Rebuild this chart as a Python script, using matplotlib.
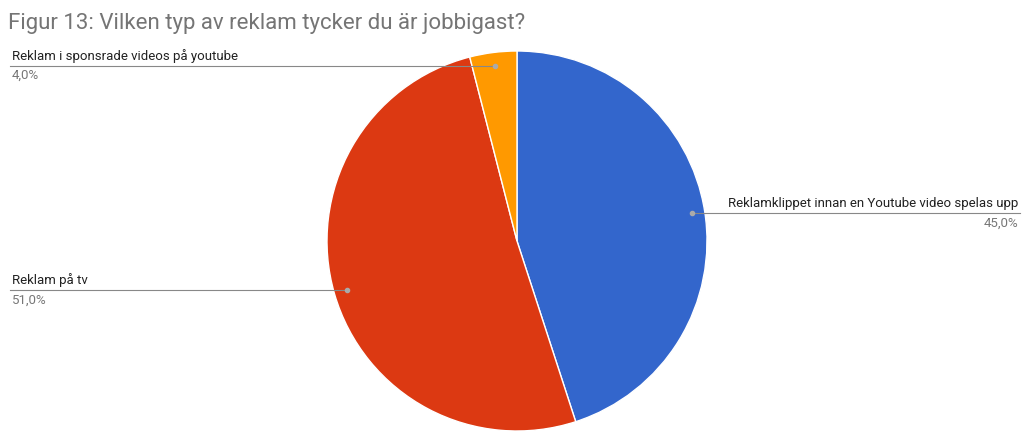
import numpy as np
import matplotlib.pyplot as plt

labels = ['Reklamklippet innan en Youtube video spelas upp', 'Reklam på tv', 'Reklam i sponsrade videos på youtube']
values = [45.0, 51.0, 4.0]
pct_text = ['45,0%', '51,0%', '4,0%']
colors = ['#3366cc', '#dc3912', '#ff9900']

plt.rcParams['font.family'] = ['Roboto', 'DejaVu Sans']
W, H = 1024, 448
fig = plt.figure(figsize=(W / 100, H / 100), dpi=100)

cx, cy, r = 517, 241, 190
ax = fig.add_axes([(cx - r) / W, (H - cy - r) / H, 2 * r / W, 2 * r / H])
wedges, _ = ax.pie(values, colors=colors, startangle=90, counterclock=False,
                   wedgeprops=dict(linewidth=1, edgecolor='white'))
ax.set_xlim(-1, 1)
ax.set_ylim(-1, 1)
ax.set_aspect('equal')

ov = fig.add_axes([0, 0, 1, 1], facecolor='none')
ov.set_xlim(0, W)
ov.set_ylim(H, 0)
ov.axis('off')

ov.text(8, 24, 'Figur 13: Vilken typ av reklam tycker du är jobbigast?',
        fontsize=16, color='#757575', va='center')

for i, w in enumerate(wedges):
    mid = np.deg2rad((w.theta1 + w.theta2) / 2)
    px = cx + 0.93 * r * np.cos(mid)
    py = cy - 0.93 * r * np.sin(mid)
    if px > cx:
        ex, ha, tx = 1020, 'right', 1018
    else:
        ex, ha, tx = 10, 'left', 12
    ov.plot([px, ex], [py, py], color='#888888', lw=0.8)
    ov.plot(px, py, 'o', color='#aaaaaa', ms=3)
    ov.text(tx, py - 3, labels[i], ha=ha, va='bottom', fontsize=9.5, color='#222222')
    ov.text(tx, py + 3, pct_text[i], ha=ha, va='top', fontsize=9.5, color='#777777')

plt.savefig('out.png', dpi=100)
